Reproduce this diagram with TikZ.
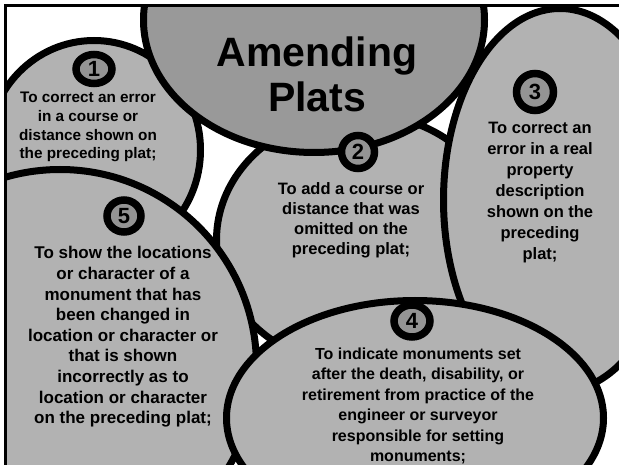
\documentclass[tikz,border=0pt]{standalone}
\usepackage{fontspec}
\setmainfont{Liberation Sans}
\usetikzlibrary{shapes.geometric}
\definecolor{lightfill}{gray}{0.70}
\definecolor{darkfill}{gray}{0.60}
\definecolor{markfill}{gray}{0.58}
\tikzset{
  blob/.style={fill=lightfill, draw=black, line width=7pt},
  titleblob/.style={fill=darkfill, draw=black, line width=7pt},
  marker/.style={ellipse, draw=black, line width=7.5pt, fill=markfill, inner sep=0pt,
    font=\fontsize{22}{22}\selectfont\bfseries},
  txt/.style={align=center, inner sep=0pt, text=black},
}
\begin{document}
\begin{tikzpicture}[x=1pt,y=-1pt]
\useasboundingbox (0,0) rectangle (619,465);
\fill[white] (0,0) rectangle (619,465);
\begin{scope}
\clip (5,5) rectangle (619,465);
\draw[blob] (94,150) ellipse [x radius=106.5, y radius=109.5];
\draw[blob] (360,240) ellipse [x radius=143.5, y radius=126.5];
\draw[blob] (560,200) ellipse [x radius=116.5, y radius=191.5];
\draw[blob] (60,366) ellipse [x radius=196.5, y radius=196.5];
\draw[titleblob] (314,20) ellipse [x radius=170.5, y radius=132.5];
\draw[blob] (415,418) ellipse [x radius=188.5, y radius=117.5];
\end{scope}
\coordinate (tl) at (5,5.5);
\coordinate (tr) at (619,5.5);
\coordinate (bl) at (5,465);
\draw[line width=3pt] (tr) -- (tl) -- (bl);

\node[txt, font=\fontsize{41}{45}\selectfont\bfseries] (title) at (317,74) {Amending\\Plats};

\node[marker, minimum width=36pt, minimum height=29pt] (m1) at (94,69) {1};
\node[marker, minimum width=33pt, minimum height=33pt] (m2) at (358,152) {2};
\node[marker, minimum width=37pt, minimum height=37pt] (m3) at (535,92) {3};
\node[marker, minimum width=36pt, minimum height=32pt] (m4) at (412,321) {4};
\node[marker, minimum width=34pt, minimum height=32pt] (m5) at (124,216) {5};

\node[txt, font=\fontsize{15.3}{18.9}\selectfont\bfseries] (t1) at (88,127)
  {To correct an error\\in a course or\\distance shown on\\the preceding plat;};
\node[txt, font=\fontsize{16.5}{20}\selectfont\bfseries] (t2) at (351,220)
  {To add a course or\\distance that was\\omitted on the\\preceding plat;};
\node[txt, font=\fontsize{16.5}{21}\selectfont\bfseries] (t3) at (540,193)
  {To correct an\\error in a real\\property\\description\\shown on the\\preceding\\plat;};
\node[txt, font=\fontsize{17}{20.6}\selectfont\bfseries] (t5) at (123,337)
  {To show the locations\\or character of a\\monument that has\\been changed in\\location or character or\\that is shown\\incorrectly as to\\location or character\\on the preceding plat;};
\node[txt, font=\fontsize{16}{20.4}\selectfont\bfseries] (t4) at (418,406)
  {To indicate monuments set\\after the death, disability, or\\retirement from practice of the\\engineer or surveyor\\responsible for setting\\monuments;};
\end{tikzpicture}
\end{document}
